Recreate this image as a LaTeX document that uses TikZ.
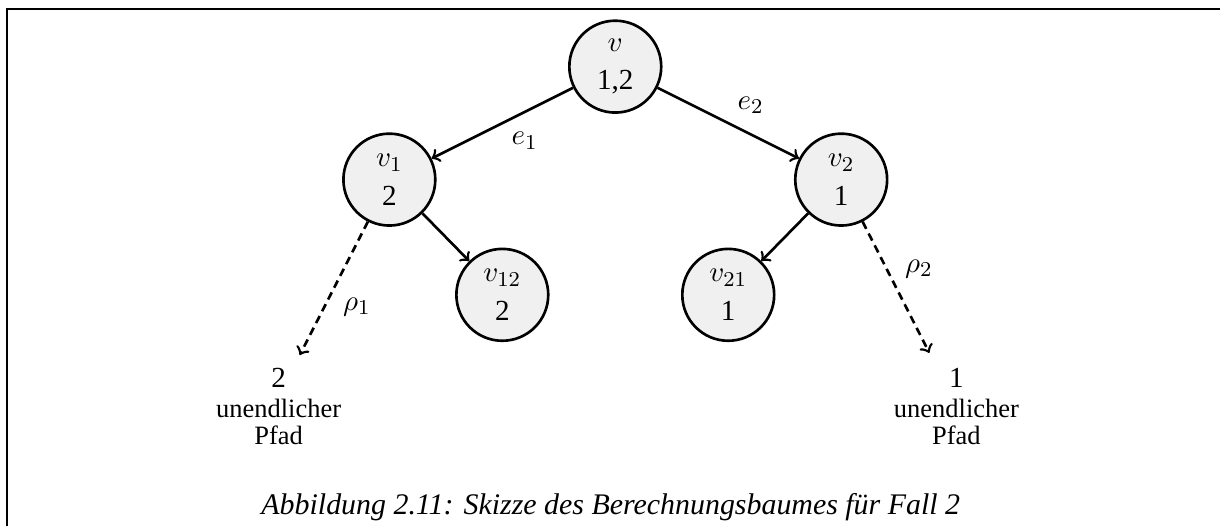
\documentclass[tikz,border=0pt]{standalone}
\usepackage{fontspec}
\setmainfont{Liberation Serif}
\usetikzlibrary{positioning}

\begin{document}
\begin{tikzpicture}[
        %Environment Cfg.
        >=to,
        %Environment Styles.
        state/.style={
            circle,
            draw,
            line width=1pt,
            fill=black!6,
            minimum size=1.22cm,
            inner sep=0pt,
            align=center,
            font=\fontsize{11}{14.5}\selectfont
        },
        edgeLbl/.style={
            font=\fontsize{11}{13}\selectfont,
            inner sep=3pt
        },
        endLbl/.style={
            anchor=north,
            inner sep=0pt,
            align=center,
            font=\fontsize{10}{10.2}\selectfont
        },
        pathArr/.style={->, line width=1pt, dash pattern=on 3pt off 2pt},
        treeArr/.style={->, line width=1pt},
    ]
    \useasboundingbox (0,0) rectangle (16.2,6.985);
    %page frame, top and left side
    \draw[line width=0.7pt] (0.093,0) -- (0.093,6.87) -- (16.2,6.87);

    %the tree itself (on grid has to come first)
    \node[state] (V) at (8.17,6.10) {$v$\\1,2};
    \node[state, on grid, below left=1.5cm and 3cm of V] (V-1) {$v_1$\\2};
    \node[state, on grid, below right=1.5cm and 3cm of V] (V-2) {$v_2$\\1};
    \node[state, on grid, below right=1.53cm and 1.5cm of V-1] (V-12) {$v_{12}$\\2};
    \node[state, on grid, below left=1.53cm and 1.5cm of V-2] (V-21) {$v_{21}$\\1};

    %ends of the infinite paths
    \coordinate (TIP-1) at ([shift={(-1.19,-2.33)}]V-1.center);
    \coordinate (TIP-2) at ([shift={(1.17,-2.30)}]V-2.center);
    \node[endLbl] (END-1) at ([shift={(-1.47,-2.50)}]V-1.center)
        {{\fontsize{11}{11}\selectfont 2}\\[1pt]unendlicher\\Pfad};
    \node[endLbl] (END-2) at ([shift={(1.53,-2.50)}]V-2.center)
        {{\fontsize{11}{11}\selectfont 1}\\[1pt]unendlicher\\Pfad};

    \draw[treeArr] (V) -- node[edgeLbl, below right]{$e_1$} (V-1);
    \draw[treeArr] (V) -- node[edgeLbl, above right]{$e_2$} (V-2);
    \draw[treeArr] (V-1) -- (V-12);
    \draw[treeArr] (V-2) -- (V-21);
    \draw[pathArr] (V-1) -- node[edgeLbl, below right]{$\rho_1$} (TIP-1);
    \draw[pathArr] (V-2) -- node[edgeLbl, above right]{$\rho_2$} (TIP-2);

    %caption below
    \node[anchor=base, font=\fontsize{11.3}{13.5}\selectfont\itshape] (CAP) at (8.11,0.15)
        {Abbildung 2.11: Skizze des Berechnungsbaumes für Fall 2};
\end{tikzpicture}
\end{document}
